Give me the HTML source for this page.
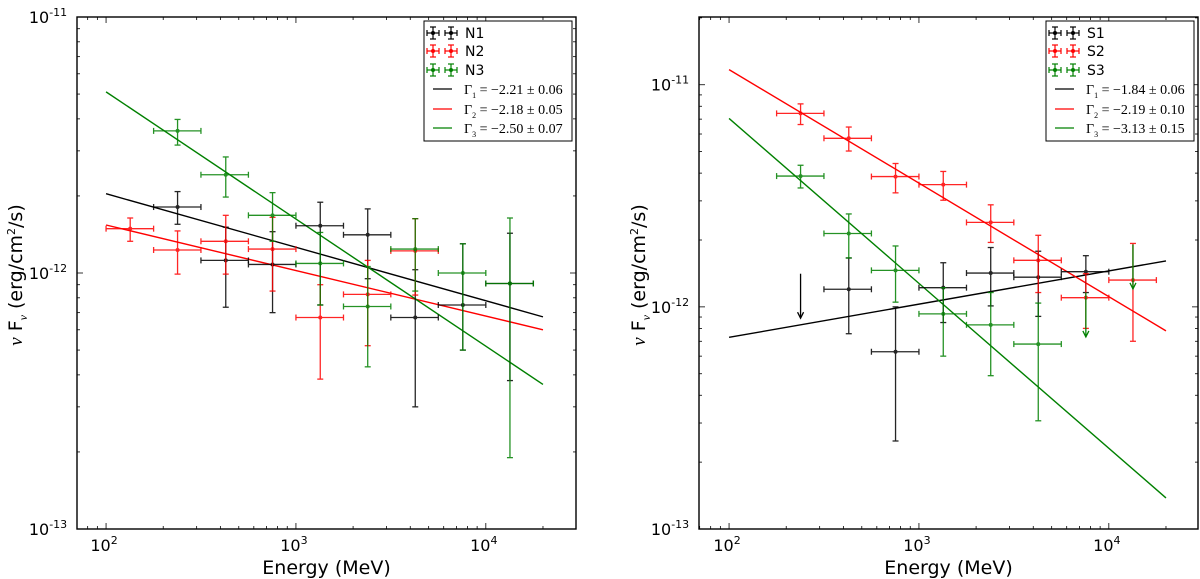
<!DOCTYPE html>
<html><head><meta charset="utf-8"><style>
html,body{margin:0;padding:0;background:#fff;}
svg{display:block;font-family:"DejaVu Sans","Liberation Sans",sans-serif;}
</style></head><body>
<svg id="chart" width="1200" height="579" viewBox="0 0 1200 579" xmlns="http://www.w3.org/2000/svg"></svg>
<script>
// ---- Data (energies in MeV, fluxes in units of 1e-12 erg/cm2/s) ----
const binCenters = [134, 238, 427, 753, 1343, 2388, 4250, 7570, 13400];
const binLow =     [100, 178, 316, 562, 1000, 1780, 3160, 5620, 10000];
const binHigh =    [178, 316, 562, 1000, 1780, 3160, 5620, 10000, 17800];

// Left panel (N)
const n1Idx = [1,2,3,4,5,6,7,8];
const n1Val = [1.81,1.12,1.08,1.53,1.41,0.67,0.75,0.91];
const n1Hi  = [2.08,1.51,1.45,1.89,1.78,1.03,1.30,1.43];
const n1Lo  = [1.55,0.735,0.70,0.75,0.95,0.30,0.50,0.38];
const n2Idx = [0,1,2,3,4,5,6];
const n2Val = [1.49,1.23,1.33,1.24,0.67,0.825,1.22];
const n2Hi  = [1.64,1.46,1.68,1.65,0.90,1.12,1.63];
const n2Lo  = [1.33,0.99,0.99,0.85,0.385,0.52,0.82];
const n3Idx = [1,2,3,4,5,6,7,8];
const n3Val = [3.59,2.42,1.68,1.09,0.74,1.24,1.00,0.91];
const n3Hi  = [3.98,2.84,2.06,1.44,1.06,1.63,1.30,1.64];
const n3Lo  = [3.16,1.98,1.33,0.75,0.43,0.85,0.50,0.19];
const nFitStart = [2.04, 1.54, 5.10];   // at 100 MeV
const nFitEnd   = [0.674, 0.60, 0.367]; // at 20000 MeV
const nLegend = ["N1","N2","N3"];
const nFitLabels = [["1","2.21","0.06"],["2","2.18","0.05"],["3","2.50","0.07"]];

// Right panel (S)
const s1Idx = [2,3,4,5,6,7];
const s1Val = [1.20,0.628,1.22,1.42,1.36,1.44];
const s1Hi  = [1.66,1.00,1.58,1.85,1.78,1.70];
const s1Lo  = [0.757,0.249,0.85,1.01,0.906,1.16];
const s1ULIdx = [1];
const s1UL = [1.41];
const s2Idx = [1,2,3,4,5,6,7,8];
const s2Val = [7.43,5.74,3.86,3.55,2.40,1.62,1.10,1.32];
const s2Hi  = [8.2,6.45,4.42,4.07,2.88,2.10,1.41,1.93];
const s2Lo  = [6.62,5.03,3.26,3.02,1.95,1.16,0.80,0.70];
const s3Idx = [1,2,3,4,5,6];
const s3Val = [3.88,2.14,1.46,0.93,0.83,0.68];
const s3Hi  = [4.34,2.62,1.88,1.22,1.16,1.04];
const s3Lo  = [3.43,1.66,1.05,0.60,0.49,0.307];
const s3ULIdx = [7,8];
const s3UL = [1.16,1.91];
const sFitStart = [0.729, 11.7, 7.05];
const sFitEnd   = [1.61, 0.78, 0.138];
const sLegend = ["S1","S2","S3"];
const sFitLabels = [["1","1.84","0.06"],["2","2.19","0.10"],["3","3.13","0.15"]];

const COLORS = ["#000000","#ff0000","#008000"];
const NS = "http://www.w3.org/2000/svg";
const svg = document.getElementById('chart');

function el(tag, attrs, parent){
  const e = document.createElementNS(NS, tag);
  for (const k in attrs) e.setAttribute(k, attrs[k]);
  (parent||svg).appendChild(e);
  return e;
}

function makePanel(cfg){
  const g = el('g', {});
  
  
  const X = e => cfg.x0 + (Math.log10(e) - cfg.xmin) / (cfg.xmax - cfg.xmin) * (cfg.x1 - cfg.x0);
  const Y = v => cfg.y1 - (Math.log10(v*1e-12) - cfg.ymin) / (cfg.ymax - cfg.ymin) * (cfg.y1 - cfg.y0);

  const fr = el('rect', {x:cfg.x0, y:cfg.y0, width:cfg.x1-cfg.x0, height:cfg.y1-cfg.y0, fill:'none', stroke:'#000', 'stroke-width':1.4}, g);
  
  

  for (let d = 1; d <= 5; d++){
    for (let m = 1; m <= 9; m++){
      const v = m*Math.pow(10,d);
      const lv = Math.log10(v);
      if (lv < cfg.xmin || lv > cfg.xmax) continue;
      const x = X(v), len = m===1?6:3;
      el('line',{x1:x,x2:x,y1:cfg.y1,y2:cfg.y1-len,stroke:'#000','stroke-width':0.8},g);
      el('line',{x1:x,x2:x,y1:cfg.y0,y2:cfg.y0+len,stroke:'#000','stroke-width':0.8},g);
      if (m===1){
        const t = el('text',{x:x-2,y:cfg.y1+22,'font-size':16,'text-anchor':'middle'},g);
        
        
        t.innerHTML = '10<tspan dy="-7" font-size="11">'+d+'</tspan>';
      }
    }
  }
  for (let d = -14; d <= -10; d++){
    for (let m = 1; m <= 9; m++){
      const lv = Math.log10(m) + d;
      if (lv < cfg.ymin-1e-9 || lv > cfg.ymax+1e-9) continue;
      const y = Y(m*Math.pow(10,d+12));
      const len = m===1?6:3;
      el('line',{x1:cfg.x0,x2:cfg.x0+len,y1:y,y2:y,stroke:'#000','stroke-width':0.8},g);
      el('line',{x1:cfg.x1,x2:cfg.x1-len,y1:y,y2:y,stroke:'#000','stroke-width':0.8},g);
      if (m===1){
        const t = el('text',{x:cfg.x0-29,y:y+6,'font-size':16,'text-anchor':'middle'},g);
        
        
        t.innerHTML = '10<tspan dy="-7" font-size="11">'+d+'</tspan>';
      }
    }
  }
  const xt = el('text',{x:(cfg.x0+cfg.x1)/2,y:574,'font-size':19,'text-anchor':'middle'},g);
  
  
  xt.textContent = 'Energy (MeV)';
  const yt = el('text',{x:0,y:0,'font-size':19,'text-anchor':'middle',transform:'translate('+cfg.ylabX+',275) rotate(-90)'},g);
  
  
  yt.innerHTML = '<tspan font-family="Liberation Serif" font-style="italic">ν</tspan> F<tspan dy="5" font-size="12" font-family="Liberation Serif" font-style="italic">ν</tspan><tspan dy="-5">  (erg/cm</tspan><tspan dy="-7" font-size="11">2</tspan><tspan dy="7">/s)</tspan>';

  for (let i = 0; i < 3; i++){
    const l = el('line',{x1:X(100),y1:Y(cfg.fitStart[i]),x2:X(20000),y2:Y(cfg.fitEnd[i]),stroke:COLORS[i],'stroke-width':1.4},g);
    
    
  }

  cfg.series.forEach((s, si) => {
    const c = COLORS[si];
    const sg = el('g',{},g);
    
    
    s.idx.forEach((bi, k) => {
      const x = X(binCenters[bi]), y = Y(s.val[k]);
      const yh = Y(s.hi[k]), yl = Y(s.lo[k]);
      const xl = X(binLow[bi]), xh = X(binHigh[bi]);
      const pg = el('g',{stroke:c,'stroke-width':1.3,opacity:0.85},sg);
      
      
      el('line',{x1:xl,x2:xh,y1:y,y2:y},pg);
      el('line',{x1:x,x2:x,y1:yh,y2:yl},pg);
      el('line',{x1:xl,x2:xl,y1:y-3,y2:y+3},pg);
      el('line',{x1:xh,x2:xh,y1:y-3,y2:y+3},pg);
      el('line',{x1:x-3,x2:x+3,y1:yh,y2:yh},pg);
      el('line',{x1:x-3,x2:x+3,y1:yl,y2:yl},pg);
      el('circle',{cx:x,cy:y,r:2,fill:c,stroke:'none'},pg);
    });
    (s.ulIdx||[]).forEach((bi,k) => {
      const x = X(binCenters[bi]), y = Y(s.ul[k]);
      const y2 = Y(s.ul[k]*Math.pow(10,-0.2));
      const ag = el('g',{stroke:c,'stroke-width':1.3,fill:'none'},sg);
      
      
      el('line',{x1:x,x2:x,y1:y,y2:y2},ag);
      el('polyline',{points:(x-3)+','+(y2-6)+' '+x+','+y2+' '+(x+3)+','+(y2-6)},ag);
    });
  });

  const lg = el('g',{},g);
  
  
  const lx = cfg.legX;
  el('rect',{x:lx,y:21,width:148,height:120,fill:'#fff',stroke:'#000','stroke-width':1},lg);
  const rows = [33,51,70,89,109,128];
  for (let i = 0; i < 3; i++){
    const c = COLORS[i], y = rows[i];
    const eg = el('g',{},lg);
    
    
    [lx+9, lx+27].forEach(px => {
      el('line',{x1:px-6,x2:px+6,y1:y,y2:y,stroke:c,'stroke-width':1.2},eg);
      el('line',{x1:px,x2:px,y1:y-6,y2:y+6,stroke:c,'stroke-width':1.2},eg);
      el('line',{x1:px-3,x2:px+3,y1:y-6,y2:y-6,stroke:c,'stroke-width':1.2},eg);
      el('line',{x1:px-3,x2:px+3,y1:y+6,y2:y+6,stroke:c,'stroke-width':1.2},eg);
      el('line',{x1:px-6,x2:px-6,y1:y-3,y2:y+3,stroke:c,'stroke-width':1.2},eg);
      el('line',{x1:px+6,x2:px+6,y1:y-3,y2:y+3,stroke:c,'stroke-width':1.2},eg);
      el('circle',{cx:px,cy:y,r:2,fill:c},eg);
    });
    const t = el('text',{x:lx+41,y:y+5,'font-size':14},eg);
    t.textContent = cfg.legend[i];
  }
  for (let i = 0; i < 3; i++){
    const c = COLORS[i], y = rows[i+3];
    const eg = el('g',{},lg);
    
    
    el('line',{x1:lx+9,x2:lx+28,y1:y,y2:y,stroke:c,'stroke-width':1.2},eg);
    const f = cfg.fitLabels[i];
    const t = el('text',{x:lx+40,y:y+5,'font-size':14,'font-family':'Liberation Serif'},eg);
    t.innerHTML = 'Γ<tspan dy="4" font-size="8">'+f[0]+'</tspan><tspan dy="-4"> = −'+f[1]+' ± '+f[2]+'</tspan>';
  }
}

makePanel({name:'left-panel', x0:77, x1:576, y0:17, y1:529, xmin:2-29/189.5, xmax:4+90/189.5, ymin:-13, ymax:-11,
  ylabX:22, legX:424,
  fitStart:nFitStart, fitEnd:nFitEnd, legend:nLegend, fitLabels:nFitLabels,
  series:[{idx:n1Idx,val:n1Val,hi:n1Hi,lo:n1Lo},{idx:n2Idx,val:n2Val,hi:n2Hi,lo:n2Lo},{idx:n3Idx,val:n3Val,hi:n3Hi,lo:n3Lo}]});

makePanel({name:'right-panel', x0:699, x1:1198, y0:17, y1:529, xmin:2-30/189.5, xmax:4+89/189.5, ymin:-13, ymax:-11+68/223,
  ylabX:645, legX:1046,
  fitStart:sFitStart, fitEnd:sFitEnd, legend:sLegend, fitLabels:sFitLabels,
  series:[{idx:s1Idx,val:s1Val,hi:s1Hi,lo:s1Lo,ulIdx:s1ULIdx,ul:s1UL},{idx:s2Idx,val:s2Val,hi:s2Hi,lo:s2Lo},{idx:s3Idx,val:s3Val,hi:s3Hi,lo:s3Lo,ulIdx:s3ULIdx,ul:s3UL}]});
</script>
</body></html>
